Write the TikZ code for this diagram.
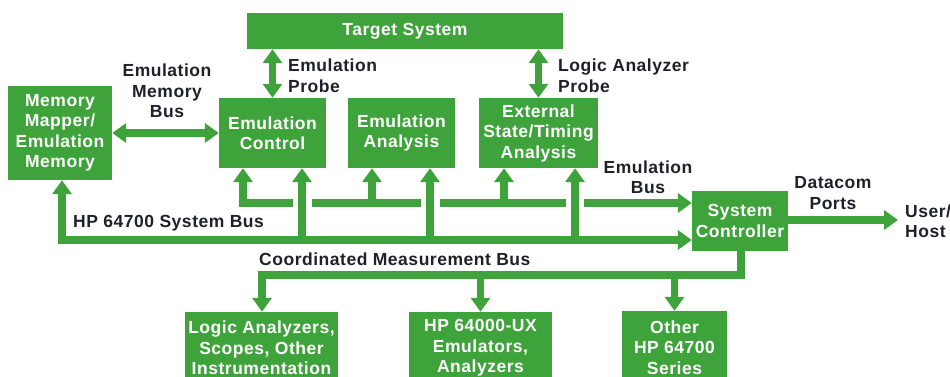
\documentclass[tikz,border=0pt]{standalone}
\usepackage{fontspec}
\setmainfont[LetterSpace=3]{Liberation Sans}
\usetikzlibrary{arrows.meta}
\definecolor{hpgreen}{RGB}{62,163,58}
\definecolor{ink}{RGB}{32,32,42}
\begin{document}
\begin{tikzpicture}[x=1pt,y=-1pt,
  >={Triangle[width=19pt,length=14pt]},
  box/.style={fill=hpgreen, draw=none, text=white, align=center, inner sep=0pt,
    font=\bfseries\fontsize{17.5}{20.5}\selectfont},
  lbl/.style={text=ink, inner sep=0pt, font=\bfseries\fontsize{17.5}{20.5}\selectfont},
  bus/.style={draw=hpgreen, line width=7.5pt, line join=miter}]
\useasboundingbox (0,0) rectangle (950,377);

% boxes
\node[box, minimum width=316pt, minimum height=36pt] (tgt) at (405,31) {Target System};
\node[box, minimum width=104pt, minimum height=94pt] (mm) at (60,133) {Memory\\Mapper/\\Emulation\\Memory};
\node[box, minimum width=107pt, minimum height=70pt] (ec) at (272.5,133) {Emulation\\Control};
\node[box, minimum width=107pt, minimum height=70pt] (ea) at (401.5,133) {Emulation\\Analysis};
\node[box, minimum width=119pt, minimum height=70pt] (ex) at (538.5,133) {External\\State/Timing\\Analysis};
\node[box, minimum width=96pt, minimum height=60pt] (sc) at (740,221) {System\\Controller};
\node[box, minimum width=153pt, minimum height=72pt] (la) at (261.5,348) {Logic Analyzers,\\Scopes, Other\\Instrumentation};
\node[box, minimum width=143pt, minimum height=72pt] (hp) at (480.5,348) {HP 64000-UX\\Emulators,\\Analyzers};
\node[box, minimum width=105pt, minimum height=73pt] (ot) at (674.5,347.5) {Other\\HP 64700\\Series};

% probes and memory bus
\draw[bus,<->] (tgt.south -| ec.north) -- (ec.north);
\draw[bus,<->] (tgt.south -| ex.north) -- (ex.north);
\draw[bus,<->] (mm.east) -- (ec.west);

% HP 64700 system bus
\coordinate (sb) at (62,240);
\coordinate (s1) at (302,240);
\coordinate (s2) at (430,240);
\coordinate (s3) at (575,240);
\draw[bus,<->] (mm.south -| sb) -- (sb) -- (sc.west |- sb);
\draw[bus,->] (s1) -- (ec.south -| s1);
\draw[bus,->] (s2) -- (ea.south -| s2);
\draw[bus,->] (s3) -- (ex.south -| s3);

% emulation bus
\coordinate (eb) at (243,203);
\coordinate (e1a) at (293,203);
\coordinate (e2a) at (312,203);
\coordinate (e2b) at (421,203);
\coordinate (e3a) at (440,203);
\coordinate (e3b) at (566,203);
\coordinate (e4a) at (584,203);
\coordinate (e2) at (372,203);
\coordinate (e3) at (504,203);
\draw[bus,->] (e1a) -- (eb) -- (ec.south -| eb);
\draw[bus] (e2a) -- (e2b);
\draw[bus] (e3a) -- (e3b);
\draw[bus,->] (e2) -- (ea.south -| e2);
\draw[bus,->] (e3) -- (ex.south -| e3);
\draw[bus,->] (e4a) -- (sc.west |- e4a);

% coordinated measurement bus
\coordinate (cm) at (741,275);
\coordinate (cmL) at (262,275);
\draw[bus,->] (sc.south -| cm) -- (cm) -- (cmL) -- (la.north -| cmL);
\draw[bus,->] (hp.north |- cm) -- (hp.north);
\draw[bus,->] (ot.north |- cm) -- (ot.north);

% datacom
\coordinate (uh) at (898,220);
\draw[bus,->] (sc.east |- uh) -- (uh);

% labels
\node[lbl, align=center] (lmb) at (167,91) {Emulation\\Memory\\Bus};
\node[lbl, align=left, anchor=west] (lep) at (288,75.5) {Emulation\\Probe};
\node[lbl, align=left, anchor=west] (llp) at (558,75.5) {Logic Analyzer\\Probe};
\node[lbl, align=center] (leb) at (648,177) {Emulation\\Bus};
\node[lbl, align=center] (ldp) at (833,193) {Datacom\\Ports};
\node[lbl, align=left, anchor=west] (luh) at (905,221) {User/\\Host};
\node[lbl, anchor=west] (lsb) at (73,223) {HP 64700 System Bus};
\node[lbl, anchor=west] (lcm) at (259,259) {Coordinated Measurement Bus};
\end{tikzpicture}
\end{document}
